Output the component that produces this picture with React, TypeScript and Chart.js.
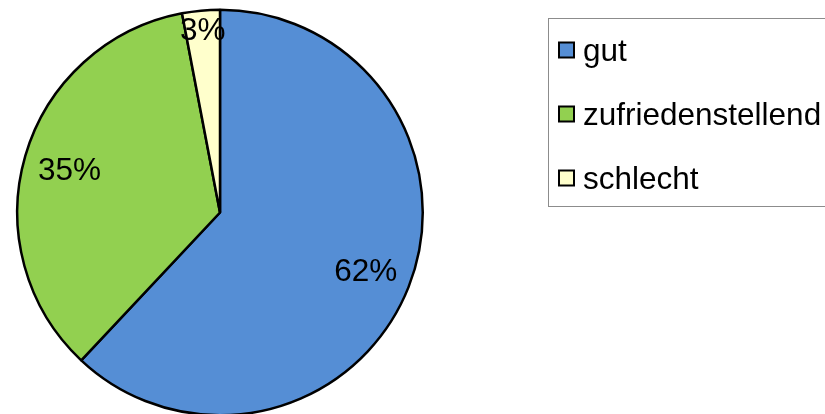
import React, { useEffect, useRef } from "react";
import { Chart, registerables } from "chart.js";

Chart.register(...registerables);

const categories = ["gut", "zufriedenstellend", "schlecht"];
const values = [62, 35, 3];
const valueLabels = ["62%", "35%", "3%"];
const colors = ["#558ED5", "#92D050", "#FFFFCC"];

const FONT = '31.5px "Liberation Sans", Arial, sans-serif';

const sliceLabelPlugin = {
  id: "sliceLabels",
  afterDatasetsDraw(chart: any) {
    const ctx = chart.ctx;
    const meta = chart.getDatasetMeta(0);
    ctx.save();
    ctx.font = FONT;
    ctx.fillStyle = "#000";
    ctx.textAlign = "center";
    ctx.textBaseline = "alphabetic";
    meta.data.forEach((arc: any, i: number) => {
      const p = arc.getProps(["x", "y", "startAngle", "endAngle", "outerRadius"], true);
      const mid = (p.startAngle + p.endAngle) / 2;
      const f = values[i] < 5 ? 0.907 : 0.773;
      const x = p.x + Math.cos(mid) * p.outerRadius * f;
      const y = p.y + Math.sin(mid) * p.outerRadius * f;
      ctx.fillText(valueLabels[i], x, y + 11);
    });
    ctx.restore();
  },
};

const legendPlugin = {
  id: "boxLegend",
  afterDraw(chart: any) {
    const ctx = chart.ctx;
    const labels = chart.data.labels as string[];
    const bg = chart.data.datasets[0].backgroundColor as string[];
    ctx.save();
    ctx.strokeStyle = "#8c8c8c";
    ctx.lineWidth = 1;
    ctx.strokeRect(548.5, 18.5, 300, 188);
    ctx.font = FONT;
    ctx.textAlign = "left";
    ctx.textBaseline = "alphabetic";
    labels.forEach((lab, i) => {
      const cy = 50 + i * 64;
      ctx.fillStyle = bg[i];
      ctx.fillRect(559, cy - 7.5, 15, 15);
      ctx.strokeStyle = "#000";
      ctx.lineWidth = 2;
      ctx.strokeRect(559, cy - 7.5, 15, 15);
      ctx.fillStyle = "#000";
      ctx.fillText(lab, 583, cy + 11);
    });
    ctx.restore();
  },
};

export default function App() {
  const ref = useRef<HTMLCanvasElement | null>(null);
  useEffect(() => {
    if (!ref.current) return;
    const chart = new Chart(ref.current, {
      type: "pie",
      data: {
        labels: categories,
        datasets: [
          {
            data: values,
            backgroundColor: colors,
            borderColor: "#000000",
            borderWidth: 2.5,
          },
        ],
      },
      options: {
        responsive: false,
        animation: false,
        devicePixelRatio: 1,
        layout: { padding: { left: 16, right: 401, top: 8.5, bottom: 13.5 } },
        plugins: {
          legend: { display: false },
          tooltip: { enabled: false },
          title: { display: false },
        },
      },
      plugins: [sliceLabelPlugin, legendPlugin],
    });
    return () => chart.destroy();
  }, []);
  return (
    <div style={{ position: "absolute", left: 0, top: 0, width: 825, height: 414, overflow: "hidden", background: "#fff" }}>
      <canvas ref={ref} width={825} height={430} style={{ display: "block" }} />
    </div>
  );
}
